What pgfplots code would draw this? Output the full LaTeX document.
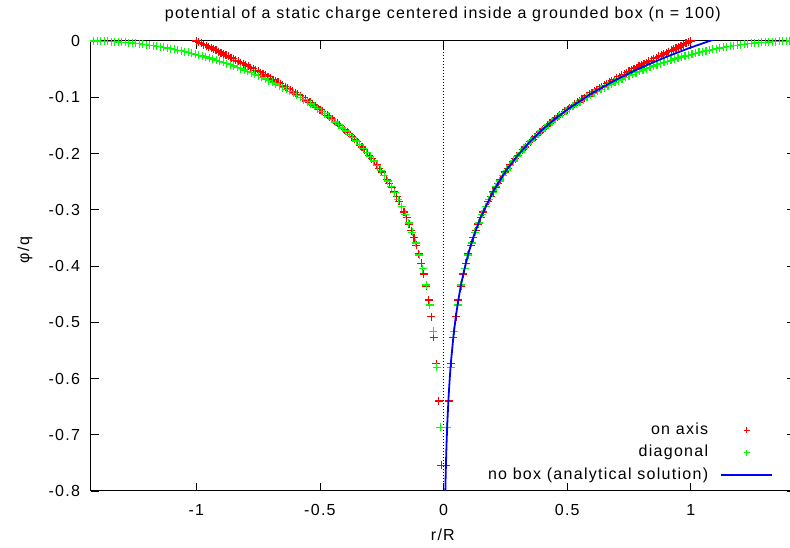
\documentclass[border=0pt]{standalone}
\usepackage{fontspec}
\setmainfont{Liberation Sans}[LetterSpace=8]
\usepackage{pgfplots}
\usepackage{pgfplotstable}
\pgfplotsset{compat=1.18}
\definecolor{gred}{RGB}{255,0,0}
\definecolor{ggreen}{RGB}{0,255,0}
\definecolor{gblue}{RGB}{0,0,255}
\pgfplotsset{
  markleg/.style={legend image code/.code={\draw[mark repeat=2,mark phase=2,##1,mark size=3bp] plot coordinates {(0bp,0bp) (25.5bp,0bp) (51bp,0bp)};}},
  lineleg/.style={legend image code/.code={\draw[##1] (0bp,0bp) -- (51bp,0bp);}}
}

\pgfplotstableread{
r y
0.01 -0.7540
0.02 -0.6400
0.03 -0.5740
0.04 -0.5270
0.05 -0.4900
0.06 -0.4605
0.07 -0.4357
0.08 -0.4142
0.09 -0.3955
0.10 -0.3787
0.11 -0.3635
0.12 -0.3497
0.13 -0.3370
0.14 -0.3252
0.15 -0.3142
0.16 -0.3039
0.17 -0.2943
0.18 -0.2852
0.19 -0.2765
0.20 -0.2684
0.21 -0.2606
0.22 -0.2532
0.23 -0.2461
0.24 -0.2393
0.25 -0.2328
0.26 -0.2266
0.27 -0.2206
0.28 -0.2148
0.29 -0.2092
0.30 -0.2038
0.31 -0.1985
0.32 -0.1935
0.33 -0.1886
0.34 -0.1838
0.35 -0.1792
0.36 -0.1746
0.37 -0.1703
0.38 -0.1660
0.39 -0.1618
0.40 -0.1578
0.41 -0.1538
0.42 -0.1499
0.43 -0.1462
0.44 -0.1425
0.45 -0.1388
0.46 -0.1353
0.47 -0.1318
0.48 -0.1284
0.49 -0.1251
0.50 -0.1218
0.51 -0.1186
0.52 -0.1155
0.53 -0.1124
0.54 -0.1093
0.55 -0.1063
0.56 -0.1034
0.57 -0.1005
0.58 -0.0976
0.59 -0.0948
0.60 -0.0920
0.61 -0.0893
0.62 -0.0866
0.63 -0.0839
0.64 -0.0813
0.65 -0.0787
0.66 -0.0761
0.67 -0.0736
0.68 -0.0711
0.69 -0.0686
0.70 -0.0661
0.71 -0.0637
0.72 -0.0613
0.73 -0.0589
0.74 -0.0566
0.75 -0.0542
0.76 -0.0519
0.77 -0.0496
0.78 -0.0473
0.79 -0.0451
0.80 -0.0428
0.81 -0.0406
0.82 -0.0384
0.83 -0.0362
0.84 -0.0340
0.85 -0.0318
0.86 -0.0296
0.87 -0.0275
0.88 -0.0253
0.89 -0.0232
0.90 -0.0210
0.91 -0.0189
0.92 -0.0168
0.93 -0.0147
0.94 -0.0126
0.95 -0.0105
0.96 -0.0084
0.97 -0.0063
0.98 -0.0042
0.99 -0.0021
1.00 0.0000
}\axisdata

\pgfplotstableread{
r y
0.0141 -0.6870
0.0283 -0.5800
0.0424 -0.5160
0.0566 -0.4694
0.0707 -0.4339
0.0849 -0.4049
0.0990 -0.3803
0.1131 -0.3591
0.1273 -0.3403
0.1414 -0.3236
0.1556 -0.3084
0.1697 -0.2945
0.1838 -0.2818
0.1980 -0.2700
0.2121 -0.2591
0.2263 -0.2488
0.2404 -0.2392
0.2546 -0.2301
0.2687 -0.2215
0.2828 -0.2133
0.2970 -0.2056
0.3111 -0.1982
0.3253 -0.1911
0.3394 -0.1844
0.3536 -0.1779
0.3677 -0.1717
0.3818 -0.1657
0.3960 -0.1600
0.4101 -0.1545
0.4243 -0.1491
0.4384 -0.1439
0.4525 -0.1389
0.4667 -0.1341
0.4808 -0.1294
0.4950 -0.1249
0.5091 -0.1205
0.5233 -0.1162
0.5374 -0.1121
0.5515 -0.1081
0.5657 -0.1042
0.5798 -0.1004
0.5940 -0.0967
0.6081 -0.0930
0.6223 -0.0895
0.6364 -0.0861
0.6505 -0.0828
0.6647 -0.0796
0.6788 -0.0764
0.6930 -0.0734
0.7071 -0.0704
0.7212 -0.0675
0.7354 -0.0646
0.7495 -0.0619
0.7637 -0.0592
0.7778 -0.0566
0.7920 -0.0540
0.8061 -0.0516
0.8202 -0.0491
0.8344 -0.0468
0.8485 -0.0445
0.8627 -0.0423
0.8768 -0.0401
0.8910 -0.0380
0.9051 -0.0360
0.9192 -0.0340
0.9334 -0.0321
0.9475 -0.0303
0.9617 -0.0285
0.9758 -0.0267
0.9899 -0.0251
1.0041 -0.0234
1.0182 -0.0219
1.0324 -0.0204
1.0465 -0.0189
1.0607 -0.0175
1.0748 -0.0162
1.0889 -0.0149
1.1031 -0.0137
1.1172 -0.0125
1.1314 -0.0114
1.1455 -0.0103
1.1597 -0.0093
1.1738 -0.0083
1.1879 -0.0074
1.2021 -0.0066
1.2162 -0.0058
1.2304 -0.0050
1.2445 -0.0044
1.2586 -0.0037
1.2728 -0.0031
1.2869 -0.0026
1.3011 -0.0021
1.3152 -0.0017
1.3294 -0.0013
1.3435 -0.0010
1.3576 -0.0007
1.3718 -0.0004
1.3859 -0.0003
1.4001 -0.0001
1.4142 0.0000
}\diagdata

\begin{document}
\fontsize{16bp}{19bp}\selectfont
\begin{tikzpicture}
\begin{axis}[
  name=ax,
  scale only axis, width=704.3bp, height=450bp,
  xmin=-1.427, xmax=1.421, ymin=-0.8, ymax=0,
  clip mode=individual,
  xtick={-1,-0.5,0,0.5,1}, xticklabels={-1,-0.5,0,0.5,1},
  ytick={-0.8,-0.7,-0.6,-0.5,-0.4,-0.3,-0.2,-0.1,0},
  yticklabels={-0.8,-0.7,-0.6,-0.5,-0.4,-0.3,-0.2,-0.1,0},
  tick align=inside, major tick length=8bp,
  tick style={black, line width=0.8bp},
  axis line style={black, line width=1bp},
  xticklabel style={inner sep=0pt, yshift=-13bp},
  yticklabel style={inner sep=0pt, xshift=-10.5bp},
  title={potential of a static charge centered inside a grounded box (n = 100)},
  every axis title/.style={at={(axis description cs:0.5,1.0489)}, anchor=base, inner sep=0pt},
  xlabel={r/R},
  every axis x label/.style={at={(axis description cs:0.5,-0.0978)}, anchor=center, inner sep=0pt},
  ylabel={φ/q},
  every axis y label/.style={at={(axis description cs:-0.0933,0.5356)}, anchor=center, inner sep=0pt, rotate=90},
  legend style={draw=none, fill=none, at={(axis description cs:0.969,0.151)}, anchor=north east,
    inner sep=0pt, row sep=8.5bp, column sep=12bp,
    nodes={inner sep=0pt, text height=11bp, text depth=3bp}},
  legend cell align=right, legend plot pos=right,
]
\addplot[black, line width=0.6bp, dash pattern=on 1bp off 2bp, forget plot] coordinates {(0,-0.8) (0,0)};
\addplot[only marks, mark=+, mark size=4bp, gred, line width=1.2bp, markleg]
  table[x=r, y=y]{\axisdata};
\addlegendentry{on axis}
\addplot[only marks, mark=+, mark size=4bp, gred, line width=1.2bp, forget plot]
  table[x expr=-\thisrow{r}, y=y]{\axisdata};
\addplot[only marks, mark=+, mark size=4bp, ggreen, line width=1.2bp, markleg]
  table[x=r, y=y]{\diagdata};
\addlegendentry{diagonal}
\addplot[only marks, mark=+, mark size=4bp, ggreen, line width=1.2bp, forget plot]
  table[x expr=-\thisrow{r}, y=y]{\diagdata};
\addplot[gblue, line width=1.8bp, no marks, lineleg]
  coordinates {(0.006,-0.8257) (0.007,-0.8012) (0.008,-0.7800) (0.009,-0.7612) (0.010,-0.7444) (0.012,-0.7154) (0.015,-0.6799) (0.02,-0.6341) (0.025,-0.5986) (0.03,-0.5696) (0.04,-0.5238) (0.05,-0.4883) (0.06,-0.4593) (0.07,-0.4348) (0.08,-0.4135) (0.1,-0.3780) (0.12,-0.3490) (0.15,-0.3134) (0.2,-0.2677) (0.25,-0.2321) (0.3,-0.2031) (0.35,-0.1786) (0.4,-0.1573) (0.45,-0.1386) (0.5,-0.1218) (0.6,-0.0928) (0.7,-0.0683) (0.8,-0.0470) (0.9,-0.0283) (1.0,-0.0115) (1.075,0) (1.1,0.0037)};
\addlegendentry{no box (analytical solution)}
\end{axis}
\pgfresetboundingbox
\path[use as bounding box] (ax.south west) ++(-90.7bp,-57bp) rectangle ++(790bp,548bp);
\end{tikzpicture}
\end{document}
